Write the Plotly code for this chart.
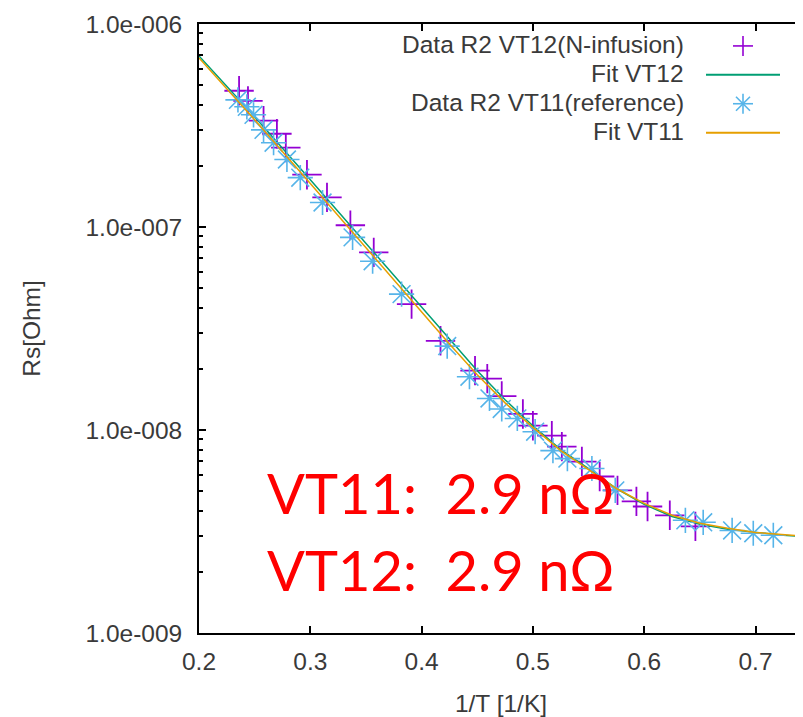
import plotly.graph_objects as go

VT12_X = [0.236, 0.244, 0.258, 0.270, 0.278, 0.297, 0.315, 0.336, 0.357, 0.391,
          0.417, 0.448, 0.459, 0.472, 0.491, 0.500, 0.517, 0.526, 0.544, 0.560,
          0.576, 0.593, 0.603, 0.623, 0.646]
VT12_RS = [4.69e-7, 4.18e-7, 3.34e-7, 2.88e-7, 2.46e-7, 1.81e-7, 1.40e-7, 1.02e-7, 7.50e-8, 4.17e-8,
           2.75e-8, 1.96e-8, 1.79e-8, 1.47e-8, 1.20e-8, 1.05e-8, 9.38e-9, 8.28e-9, 6.99e-9, 5.90e-9,
           5.04e-9, 4.45e-9, 4.20e-9, 3.80e-9, 3.35e-9]

VT11_X = [0.235, 0.243, 0.249, 0.258, 0.267, 0.279, 0.291, 0.311, 0.338, 0.356,
          0.382, 0.423, 0.443, 0.461, 0.472, 0.486, 0.502, 0.518, 0.531, 0.553,
          0.574, 0.637, 0.653, 0.679, 0.698, 0.716]
VT11_RS = [4.23e-7, 3.91e-7, 3.57e-7, 3.01e-7, 2.60e-7, 2.15e-7, 1.75e-7, 1.32e-7, 8.89e-8, 6.78e-8,
           4.67e-8, 2.59e-8, 1.83e-8, 1.43e-8, 1.27e-8, 1.14e-8, 9.81e-9, 7.91e-9, 7.23e-9, 6.46e-9,
           5.04e-9, 3.59e-9, 3.51e-9, 3.20e-9, 3.10e-9, 3.03e-9]

# Fit curves
FIT_X = [0.20, 0.25, 0.30, 0.35, 0.40, 0.425, 0.45, 0.475, 0.50, 0.525,
         0.55, 0.575, 0.60, 0.625, 0.65, 0.675, 0.70, 0.725, 0.745]
FIT_VT12 = [6.96e-7, 3.49e-7, 1.71e-7, 8.31e-8, 4.03e-8, 2.78e-8, 1.96e-8, 1.41e-8, 1.05e-8, 8.00e-9,
            6.46e-9, 5.15e-9, 4.30e-9, 3.75e-9, 3.43e-9, 3.24e-9, 3.13e-9, 3.03e-9, 2.98e-9]
FIT_VT11 = [6.80e-7, 3.38e-7, 1.64e-7, 7.94e-8, 3.85e-8, 2.65e-8, 1.87e-8, 1.36e-8, 1.03e-8, 7.91e-9,
            6.38e-9, 5.15e-9, 4.35e-9, 3.80e-9, 3.47e-9, 3.28e-9, 3.13e-9, 3.05e-9, 2.99e-9]

X_TICKS = [0.2, 0.3, 0.4, 0.5, 0.6, 0.7]
Y_TICKS = [1e-9, 1e-8, 1e-7, 1e-6]
Y_TICK_TEXT = ["1.0e-009", "1.0e-008", "1.0e-007", "1.0e-006"]
Y_MINOR = [k * 10.0 ** e for e in (-9, -8, -7) for k in range(2, 10)]

LEGEND = [
    ("Data R2 VT12(N-infusion)", "plus", "#9400D3"),
    ("Fit VT12", "line", "#009E73"),
    ("Data R2 VT11(reference)", "star", "#56B4E9"),
    ("Fit VT11", "line", "#E69F00"),
]
RESULTS = ["VT11:\u00a0 2.9 nΩ", "VT12:\u00a0 2.9 nΩ"]

# the page body has an 8px margin, so the figure is shrunk by that much
OFF = 8
W, H = 803 - OFF, 717 - OFF
ML, MR, MT, MB = 199 - OFF, 0, 24 - OFF, 82
PW, PH = W - ML - MR, H - MT - MB
FONT = "Liberation Sans, Arial, sans-serif"
GREY = "#3a3a3a"
FS = 24.5


def px(x):
    # page pixel -> paper
    return (x - OFF - ML) / PW


def py(y):
    return (H - MB - (y - OFF)) / PH


fig = go.Figure()

fig.add_trace(go.Scatter(
    x=VT12_X, y=VT12_RS, mode="markers", name=LEGEND[0][0],
    marker=dict(symbol="cross-thin", size=21, color=LEGEND[0][2],
                line=dict(width=1.8, color=LEGEND[0][2])),
))
fig.add_trace(go.Scatter(
    x=FIT_X, y=FIT_VT12, mode="lines", name=LEGEND[1][0],
    line=dict(color=LEGEND[1][2], width=1.5),
))
fig.add_trace(go.Scatter(
    x=VT11_X, y=VT11_RS, mode="markers", name=LEGEND[2][0],
    marker=dict(symbol="asterisk", size=21, color=LEGEND[2][2],
                line=dict(width=1.6, color=LEGEND[2][2])),
))
fig.add_trace(go.Scatter(
    x=FIT_X, y=FIT_VT11, mode="lines", name=LEGEND[3][0],
    line=dict(color=LEGEND[3][2], width=1.5),
))

# gnuplot style key: text right-aligned, sample to the right of it
shapes = []
annotations = []
row_y = [46, 75, 104, 133]
for (label, kind, color), ry in zip(LEGEND, row_y):
    annotations.append(dict(
        x=px(686), y=py(ry - 1), xref="paper", yref="paper", text=label,
        xanchor="right", yanchor="middle", showarrow=False,
        font=dict(family=FONT, size=FS, color=GREY),
    ))
    cx = 743
    if kind == "line":
        shapes.append(dict(type="line", xref="paper", yref="paper",
                           x0=px(706), x1=px(780), y0=py(ry), y1=py(ry),
                           line=dict(color=color, width=2)))
    else:
        arms = [(-10, 0, 10, 0), (0, -10, 0, 10)]
        if kind == "star":
            arms += [(-7, -7, 7, 7), (-7, 7, 7, -7)]
        for dx0, dy0, dx1, dy1 in arms:
            shapes.append(dict(type="line", xref="paper", yref="paper",
                               x0=px(cx + dx0), x1=px(cx + dx1),
                               y0=py(ry + dy0), y1=py(ry + dy1),
                               line=dict(color=color, width=1.6)))

for txt, ry in zip(RESULTS, [494, 571]):
    annotations.append(dict(
        x=px(265), y=py(ry), xref="paper", yref="paper", text=txt,
        xanchor="left", yanchor="middle", showarrow=False,
        font=dict(family="Lato, Open Sans, sans-serif", size=56, color="#FF0000"),
    ))

fig.update_layout(
    width=W, height=H,
    margin=dict(l=ML, r=MR, t=MT, b=MB, pad=0),
    paper_bgcolor="white", plot_bgcolor="white",
    showlegend=False,
    shapes=shapes, annotations=annotations,
    font=dict(family=FONT, size=FS, color=GREY),
)
fig.update_xaxes(
    range=[0.2, 0.2 + 0.1 * PW / 111.3], tickvals=X_TICKS, ticktext=[f"{v:.1f}" for v in X_TICKS],
    ticks="inside", ticklen=7, tickwidth=1.5, tickcolor="black",
    showline=True, linecolor="black", linewidth=1.8, mirror="ticks",
    showgrid=False, zeroline=False, ticklabelstandoff=6,
    title=dict(text="1/T [1/K]", standoff=25, font=dict(size=FS, color=GREY)),
)
fig.update_yaxes(
    type="log", range=[-9, -6], tickvals=Y_TICKS, ticktext=Y_TICK_TEXT,
    ticks="inside", ticklen=7, tickwidth=1.5, tickcolor="black",
    minor=dict(tickvals=Y_MINOR, ticks="inside", ticklen=4, tickwidth=1.5, tickcolor="black", showgrid=False),
    showline=True, linecolor="black", linewidth=1.8, mirror=False,
    showgrid=False, zeroline=False, ticklabelstandoff=10,
    title=dict(text="Rs[Ohm]", standoff=38, font=dict(size=FS, color=GREY)),
)

fig.write_html("out.html")
